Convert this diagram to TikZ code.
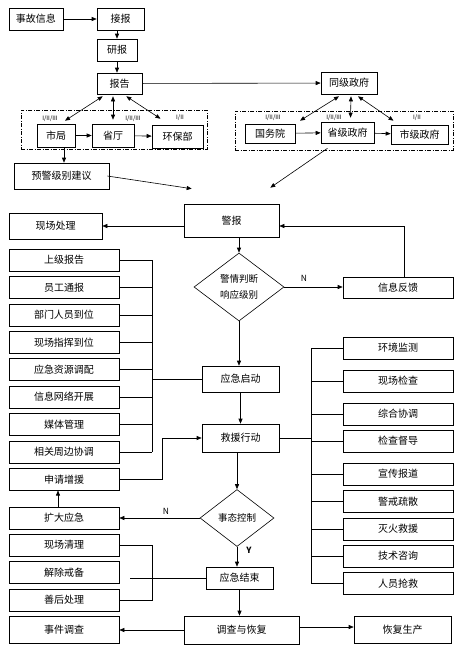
\documentclass[tikz,border=0pt]{standalone}
\usepackage{fontspec}
\setmainfont{Noto Sans CJK SC}
\usetikzlibrary{arrows.meta,shapes.geometric}
\begin{document}
\begin{tikzpicture}[x=1pt, y=-1pt, line width=0.6pt, >={Triangle[length=5pt,width=4pt]}]
  \tikzstyle{box}=[draw, rectangle, inner sep=0pt, font=\fontsize{10}{11}\selectfont]
  \tikzstyle{item}=[box, minimum width=110pt, minimum height=22pt]
  \tikzstyle{choice}=[draw, diamond, inner sep=0pt, align=center, font=\fontsize{9.5}{16}\selectfont]
  \tikzstyle{group}=[draw, dash pattern=on 4pt off 1.5pt on 1pt off 1.5pt, inner sep=0pt]
  \tikzstyle{level}=[inner sep=0pt, font=\fontsize{6}{7}\selectfont]
  \tikzstyle{flag}=[inner sep=0pt, font=\fontsize{8.5}{9}\selectfont]
  \useasboundingbox (0,0) rectangle (460,653);

  % top: reporting chain
  \node[box, minimum width=54pt, minimum height=22pt] (xx) at (36,19) {事故信息};
  \node[box, minimum width=47pt, minimum height=22pt] (jb) at (120.5,19) {接报};
  \node[box, minimum width=40pt, minimum height=22pt] (yb) at (117,50) {研报};
  \node[box, minimum width=45pt, minimum height=21pt] (bg) at (119.5,83.5) {报告};
  \node[box, minimum width=56pt, minimum height=22pt] (tj) at (349,83) {同级政府};

  \node[group, minimum width=186pt, minimum height=39pt] (gl) at (114,129.5) {};
  \node[box, minimum width=38pt, minimum height=23pt] (sj) at (56,135.5) {市局};
  \node[box, minimum width=42pt, minimum height=23pt] (st) at (113,135.5) {省厅};
  \node[box, minimum width=51pt, minimum height=23pt] (hb) at (177.5,136.5) {环保部};
  \node[level] (lsj) at (50,119) {I/II/III};
  \node[level] (lst) at (133,119) {I/II/III};
  \node[level] (lhb) at (180,118) {I/II};

  \node[group, minimum width=218pt, minimum height=39pt] (gr) at (344,130.5) {};
  \node[box, minimum width=50pt, minimum height=19pt] (gw) at (270,133.5) {国务院};
  \node[box, minimum width=53pt, minimum height=21pt] (sz) at (347.5,132.5) {省级政府};
  \node[box, minimum width=57pt, minimum height=19pt] (sjz) at (419.5,134.5) {市级政府};
  \node[level] (lgw) at (273,118) {I/II/III};
  \node[level] (lsz) at (334,118) {I/II/III};
  \node[level] (lsjz) at (417,118) {I/II};

  \node[box, minimum width=95pt, minimum height=26pt] (yj) at (61.5,176) {预警级别建议};

  % centre: alarm and response
  \node[box, minimum width=95pt, minimum height=33pt] (jbao) at (231.5,220.5) {警报};
  \node[box, minimum width=93pt, minimum height=26pt] (xc) at (55.5,226) {现场处理};
  \node[choice, minimum width=90pt, minimum height=68pt] (jq) at (239,287) {警情判断\\响应级别};
  \node[box, minimum width=110pt, minimum height=21pt] (fk) at (398,287.5) {信息反馈};
  \node[flag] (n1) at (304,278) {N};
  \node[box, minimum width=77pt, minimum height=26pt] (qd) at (240.5,379) {应急启动};
  \node[box, minimum width=77pt, minimum height=28pt] (jy) at (240.5,438) {救援行动};
  \node[choice, minimum width=74pt, minimum height=57pt] (sk) at (237,518) {事态控制};
  \node[flag] (n2) at (166,511) {N};
  \node[flag, font=\fontsize{8.5}{9}\selectfont\bfseries] (y1) at (249,550) {Y};
  \node[box, minimum width=67pt, minimum height=22pt] (js) at (239.5,578) {应急结束};
  \node[box, minimum width=115pt, minimum height=28pt] (dc) at (241.5,630) {调查与恢复};
  \node[box, minimum width=97pt, minimum height=27pt] (hf) at (402.5,630) {恢复生产};

  % left column
  \node[item] (l1) at (64,260) {上级报告};
  \node[item] (l2) at (64,287.4) {员工通报};
  \node[item] (l3) at (64,314.8) {部门人员到位};
  \node[item] (l4) at (64,342.2) {现场指挥到位};
  \node[item] (l5) at (64,369.6) {应急资源调配};
  \node[item] (l6) at (64,397) {信息网络开展};
  \node[item] (l7) at (64,424.4) {媒体管理};
  \node[item] (l8) at (64,451.8) {相关周边协调};
  \node[item] (sq) at (64,479.2) {申请增援};
  \node[item] (kd) at (64,518) {扩大应急};
  \node[item] (m1) at (64,545) {现场清理};
  \node[item] (m2) at (64,572.5) {解除戒备};
  \node[item] (m3) at (64,600) {善后处理};
  \node[item, minimum height=27pt] (sjdc) at (64,630) {事件调查};

  % right column
  \node[item] (r1) at (398,348) {环境监测};
  \node[item] (r2) at (398,381) {现场检查};
  \node[item] (r3) at (398,414) {综合协调};
  \node[item] (r4) at (398,441) {检查督导};
  \node[item] (r5) at (398,474) {宣传报道};
  \node[item] (r6) at (398,501.5) {警戒疏散};
  \node[item] (r7) at (398,529) {灭火救援};
  \node[item] (r8) at (398,556) {技术咨询};
  \node[item] (r9) at (398,583.5) {人员抢救};

  \coordinate (busl) at (152,0);
  \coordinate (busr) at (311,0);
  \coordinate (jsend) at (130,0);

  % connectors
  \draw[->] (xx) -- (jb);
  \draw[->] (yb.north |- jb.south) -- (yb.north);
  \draw[->] (yb) -- (yb |- bg.north);
  \draw[->] (bg) -- (tj);
  \draw[<->] ([xshift=6pt,yshift=-2pt]bg.south west) -- ([xshift=9pt,yshift=3pt]sj.north);
  \draw[<->] ([yshift=-2pt]st.north |- bg.south) -- ([yshift=4pt]st.north);
  \draw[<->] ([xshift=-16pt,yshift=-2pt]bg.south east) -- ([xshift=-17pt,yshift=6pt]hb.north);
  \draw[->] (sj) -- (st);
  \draw[->] (st) -- (hb);
  \draw[<->] ([xshift=-10pt,yshift=-2pt]tj.south) -- ([xshift=30pt,yshift=3pt]gw.north);
  \draw[<->] ([xshift=2pt,yshift=-2pt]tj.south) -- ([xshift=3pt,yshift=4pt]sz.north);
  \draw[<->] ([xshift=9pt,yshift=-2pt]tj.south) -- ([xshift=-26pt,yshift=4pt]sjz.north);
  \draw[->] (gw) -- (sz);
  \draw[->] (sz) -- (sjz);
  \draw[->] ([xshift=8pt]sj.south) -- ([xshift=8pt]sj.south |- yj.north);
  \draw[->] ([xshift=-2pt]yj.east) -- ([xshift=8pt,yshift=15pt]jbao.north west);
  \draw[->] ([xshift=-20pt,yshift=-5pt]sz.south) -- ([xshift=-9pt,yshift=16pt]jbao.north east);

  \draw[->] (jbao.west |- xc.east) -- (xc.east);
  \draw[->] (jq.north |- jbao.south) -- (jq.north);
  \draw[->] (jq.east) -- (jq.east -| fk.west);
  \draw[->] ([xshift=6pt]fk.north) |- (jbao.east |- xc.east);
  \draw[->] (jq.south) -- (jq.south |- qd.north);
  \draw[->] (qd) -- (jy);

  \foreach \n in {l1,l2,l3,l4,l5,l6,l7,l8}
    \draw (\n.east) -- (\n.east -| busl);
  \draw (l1.east -| busl) -- (l8.east -| busl);
  \draw (qd.west) -- (qd.west -| busl);
  \draw[->] (sq.east) -| ([xshift=-39pt]jy.west) -- (jy.west);

  \foreach \n in {r1,r2,r3,r4,r5,r6,r7,r8,r9}
    \draw (\n.west) -- (\n.west -| busr);
  \draw (r1.west -| busr) -- (r9.west -| busr);
  \draw (jy.east) -- (jy.east -| busr);

  \draw[->] (sk.north |- jy.south) -- (sk.north);
  \draw[->] (sk.west) -- (kd.east);
  \draw[->] ([xshift=-6pt]kd.north) -- ([xshift=-6pt]sq.south);
  \draw[->] (sk.south) -- (sk.south |- js.north);
  \draw (m1.east) -| (busl |- m3.east) -- (m3.east);
  \draw (js.west) -- (js.west -| jsend);
  \draw[->] (js.south) -- (js.south |- dc.north);
  \draw[->] (dc) -- (sjdc);
  \draw[->] ([yshift=3pt]dc.east) -- ([yshift=3pt]dc.east -| hf.west);
\end{tikzpicture}
\end{document}
